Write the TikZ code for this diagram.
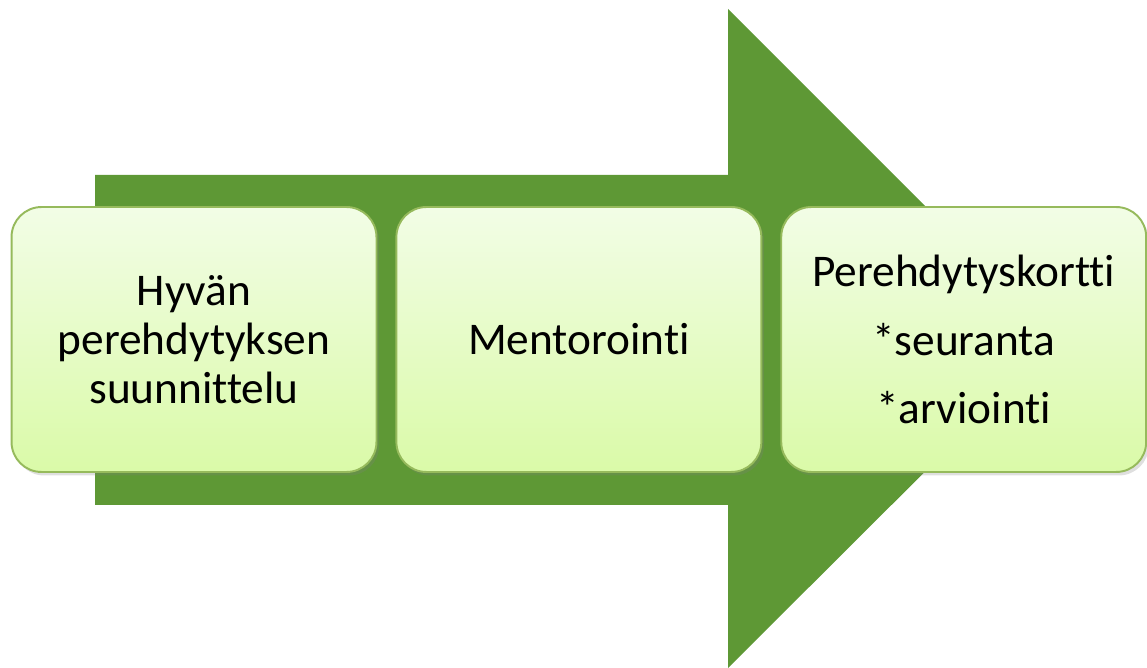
\documentclass[tikz,border=0pt]{standalone}
\usepackage{fontspec}
\setmainfont{Carlito}[Ligatures=NoCommon]
\usetikzlibrary{positioning,shadows}
\definecolor{arrowgreen}{RGB}{94,152,53}
\definecolor{boxedge}{RGB}{150,186,92}
\definecolor{boxtop}{RGB}{242,253,230}
\definecolor{boxbottom}{RGB}{218,250,168}

\begin{document}
\begin{tikzpicture}[x=0.02cm,y=-0.02cm,
    phase/.style={draw=boxedge,line width=1.1pt,rounded corners=0.6cm,
      top color=boxtop,bottom color=boxbottom,
      drop shadow={opacity=0.25,shadow xshift=1.5pt,shadow yshift=-2pt},
      align=center,text width=7.3cm,inner sep=0pt,minimum height=5.3cm,
      font=\fontsize{25.8}{28}\selectfont}
  ]
    \useasboundingbox (0,0) rectangle (1147,668);
    % big arrow behind the boxes
    \fill[arrowgreen] (95,175) -- (728,175) -- (728,9) -- (1058,339)
      -- (728,668) -- (728,505) -- (95,505) -- cycle;
    \node[phase] (plan) at (194,339.5) {Hyvän\\perehdytyksen\\suunnittelu};
    \node[phase,right=0.36cm of plan] (mentor) {Mentorointi};
    \node[phase,right=0.36cm of mentor] (card) {Perehdytyskortti\\[11pt]*seuranta\\[11pt]*arviointi};
  \end{tikzpicture}
\end{document}
